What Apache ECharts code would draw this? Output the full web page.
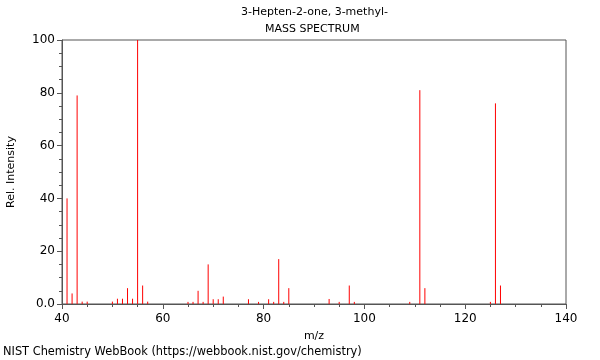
<html>
<head>
<meta charset="utf-8">
<title>3-Hepten-2-one, 3-methyl- mass spectrum</title>
<script src="https://cdn.jsdelivr.net/npm/echarts@6/dist/echarts.min.js"></script>
<style>
  body { margin: 0; background: #fff; }
  #main { width: 600px; height: 360px; }
</style>
</head>
<body>
<div id="main"></div>
<script type="text/javascript">
// peaks (m/z, relative intensity)
var mz = [41, 42, 43, 44, 45, 50, 51, 52, 53, 54, 55, 56, 57,
          65, 66, 67, 68, 69, 70, 71, 72, 77, 79, 81, 82, 83, 84, 85,
          93, 95, 97, 98, 109, 111, 112, 125, 126, 127];
var intensity = [40, 4, 79, 0.9, 0.9, 0.9, 2, 2, 6, 2, 100, 7, 0.9,
                 0.8, 0.8, 5, 0.8, 15, 1.8, 1.8, 2.8, 1.8, 0.8, 1.8, 0.8, 17, 0.8, 6,
                 1.9, 0.8, 7, 0.8, 0.8, 81, 6, 0.8, 76, 7];
var xTicks = [40, 60, 80, 100, 120, 140];
var yTicks = ['0.0', '20', '40', '60', '80', '100'];

var peaks = mz.map(function (m, i) { return [m, intensity[i]]; });

var myChart = echarts.init(document.getElementById('main'));
var axisCol = '#555';
var font = 'DejaVu Sans';

myChart.setOption({
    animation: false,
    textStyle: { fontFamily: font },
    grid: {
        left: 62, right: 34, top: 40, bottom: 56,
        outerBoundsMode: 'none', containLabel: false,
        show: true, borderColor: axisCol, borderWidth: 1, backgroundColor: 'transparent'
    },
    graphic: [
        { type: 'text', left: 314 - 73, top: 7, style: { text: '3-Hepten-2-one, 3-methyl-', fontSize: 11, fontFamily: font, fill: '#000' } },
        { type: 'text', left: 314 - 49, top: 24, style: { text: 'MASS SPECTRUM', fontSize: 11, fontFamily: font, fill: '#000' } },
        { type: 'text', left: 3, top: 347, style: { text: 'NIST Chemistry WebBook (https://webbook.nist.gov/chemistry)', fontSize: 11.4, fontFamily: font, fill: '#000' } }
    ],
    xAxis: {
        type: 'value', min: 40, max: 140, interval: 20,
        name: 'm/z', nameLocation: 'middle', nameGap: 27,
        nameTextStyle: { fontSize: 11, color: '#000', fontFamily: font },
        axisLine: { lineStyle: { color: axisCol } },
        axisTick: { length: 5, lineStyle: { color: axisCol } },
        minorTick: { show: true, splitNumber: 4, length: 3, lineStyle: { color: axisCol } },
        splitLine: { show: false },
        axisLabel: {
            fontSize: 12, color: '#000', margin: 9,
            formatter: function (v) { return xTicks.indexOf(v) >= 0 ? String(v) : ''; }
        }
    },
    yAxis: {
        type: 'value', min: 0, max: 100, interval: 20,
        name: 'Rel. Intensity', nameLocation: 'middle', nameGap: 45,
        nameTextStyle: { fontSize: 11, color: '#000', fontFamily: font },
        axisLine: { show: true, lineStyle: { color: axisCol } },
        axisTick: { show: true, length: 5, lineStyle: { color: axisCol } },
        minorTick: { show: true, splitNumber: 4, length: 3, lineStyle: { color: axisCol } },
        splitLine: { show: false },
        axisLabel: {
            fontSize: 12, color: '#000', margin: 7,
            formatter: function (v) { return yTicks[v / 20]; }
        }
    },
    series: [{
        type: 'custom',
        data: peaks,
        renderItem: function (params, api) {
            var base = api.coord([api.value(0), 0]);
            var top = api.coord([api.value(0), api.value(1)]);
            return {
                type: 'line',
                shape: { x1: base[0], y1: base[1], x2: top[0], y2: top[1] },
                style: { stroke: '#ff0000', lineWidth: 1 }
            };
        }
    }]
});
</script>
</body>
</html>
